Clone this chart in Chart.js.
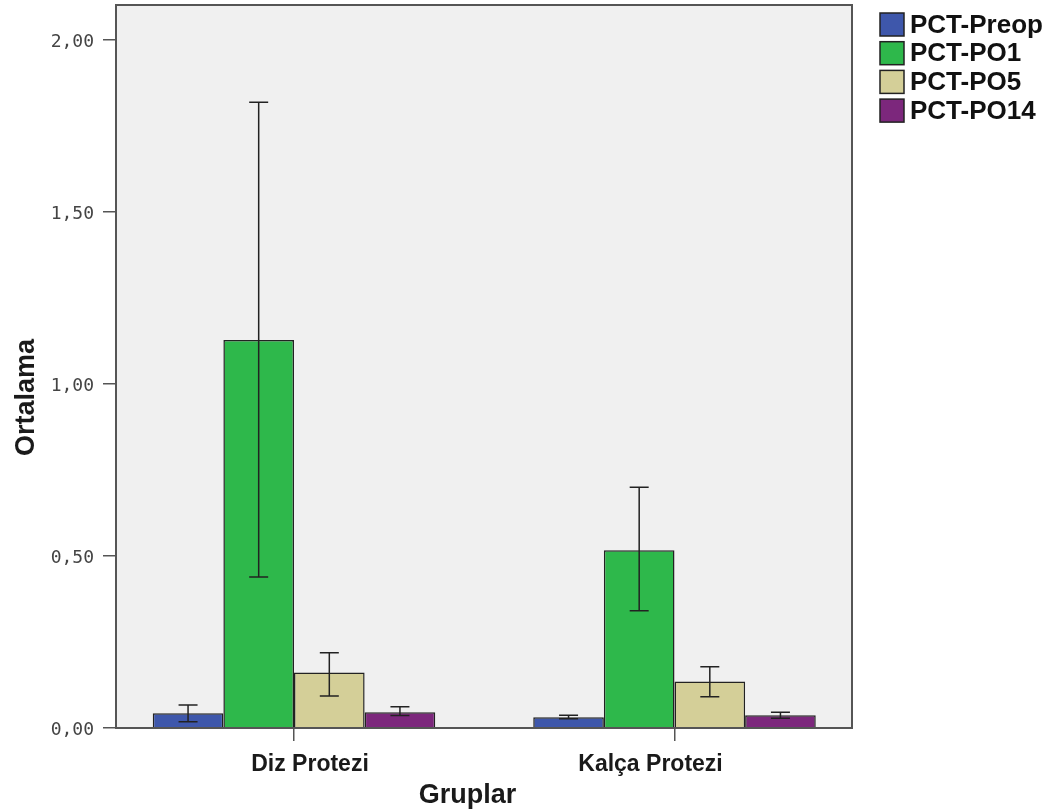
<!DOCTYPE html>
<html>
<head>
<meta charset="utf-8">
<script src="https://cdn.jsdelivr.net/npm/chart.js@4/dist/chart.umd.min.js"></script>
<style>
  html, body { margin: 0; padding: 0; background: #ffffff; }
  #wrap { width: 1054px; height: 809px; position: relative; }
</style>
</head>
<body>
<div id="wrap"><canvas id="chart"></canvas></div>
<script>
// Group labels along the x axis
const categories = ['Diz Protezi', 'Kalça Protezi'];

// Series names and their means per group
const seriesNames = ['PCT-Preop', 'PCT-PO1', 'PCT-PO5', 'PCT-PO14'];
const preopMean = [0.043, 0.031];
const po1Mean   = [1.128, 0.517];
const po5Mean   = [0.161, 0.135];
const po14Mean  = [0.046, 0.037];

// Error bar limits (lower / upper) per group
const preopLow  = [0.018, 0.027];
const preopHigh = [0.067, 0.037];
const po1Low    = [0.439, 0.341];
const po1High   = [1.819, 0.700];
const po5Low    = [0.093, 0.091];
const po5High   = [0.219, 0.178];
const po14Low   = [0.036, 0.028];
const po14High  = [0.062, 0.046];

// Y axis tick values
const yTicks = [0, 0.5, 1.0, 1.5, 2.0];

const colors = ['#3e57ab', '#2eb84b', '#d4cf98', '#7c277c'];
const means = [preopMean, po1Mean, po5Mean, po14Mean];
const lows = [preopLow, po1Low, po5Low, po14Low];
const highs = [preopHigh, po1High, po5High, po14High];

const BOLD = '"Liberation Sans", Arial, sans-serif';

const datasets = seriesNames.map((name, s) => ({
  label: name,
  data: categories.map((c, i) => ({ x: i, y: means[s][i] })),
  errLow: lows[s],
  errHigh: highs[s],
  backgroundColor: colors[s],
  borderColor: '#222222',
  borderWidth: 1.5,
  categoryPercentage: 0.7425,
  barPercentage: 1.0
}));

// Plot background, error bars, frame, titles, group labels and legend
const decor = {
  id: 'decor',
  beforeDatasetsDraw(chart) {
    const { ctx, chartArea: a } = chart;
    ctx.save();
    ctx.fillStyle = '#f0f0f0';
    ctx.fillRect(a.left, a.top, a.right - a.left, a.bottom - a.top);
    ctx.restore();
  },
  afterDatasetsDraw(chart) {
    const { ctx } = chart;
    const y = chart.scales.y;
    ctx.save();
    ctx.strokeStyle = '#222222';
    ctx.lineWidth = 1.5;
    chart.data.datasets.forEach((ds, s) => {
      const meta = chart.getDatasetMeta(s);
      meta.data.forEach((bar, i) => {
        const top = y.getPixelForValue(ds.errHigh[i]);
        const bot = y.getPixelForValue(ds.errLow[i]);
        const cap = 9.5;
        ctx.beginPath();
        ctx.moveTo(bar.x, top); ctx.lineTo(bar.x, bot);
        ctx.moveTo(bar.x - cap, top); ctx.lineTo(bar.x + cap, top);
        ctx.moveTo(bar.x - cap, bot); ctx.lineTo(bar.x + cap, bot);
        ctx.stroke();
      });
    });
    ctx.restore();
  },
  afterDraw(chart) {
    const { ctx, chartArea: a } = chart;
    const x = chart.scales.x;
    ctx.save();
    // frame
    ctx.strokeStyle = '#555555';
    ctx.lineWidth = 2;
    ctx.strokeRect(a.left, a.top, a.right - a.left, a.bottom - a.top);

    // group labels under the ticks
    ctx.fillStyle = '#1a1a1a';
    ctx.font = 'bold 23px ' + BOLD;
    ctx.textAlign = 'center';
    ctx.textBaseline = 'alphabetic';
    const labelShift = [16, -24];
    categories.forEach((c, i) => {
      ctx.fillText(c, x.getPixelForValue(i) + labelShift[i], 771);
    });

    // axis titles
    ctx.font = 'bold 27px ' + BOLD;
    ctx.fillText('Gruplar', 467.5, 803);
    ctx.save();
    ctx.translate(33.5, 397.5);
    ctx.rotate(-Math.PI / 2);
    ctx.fillText('Ortalama', 0, 0);
    ctx.restore();

    // legend
    ctx.font = 'bold 26px ' + BOLD;
    ctx.textAlign = 'left';
    ctx.textBaseline = 'middle';
    chart.data.datasets.forEach((ds, s) => {
      const cy = 24.5 + s * 28.7;
      ctx.fillStyle = ds.backgroundColor;
      ctx.fillRect(880, cy - 11.5, 24, 23);
      ctx.strokeStyle = '#222222';
      ctx.lineWidth = 1.5;
      ctx.strokeRect(880, cy - 11.5, 24, 23);
      ctx.fillStyle = '#111111';
      ctx.fillText(ds.label, 910, cy + 1);
    });
    ctx.restore();
  }
};

new Chart(document.getElementById('chart'), {
  type: 'bar',
  data: { datasets },
  plugins: [decor],
  options: {
    responsive: true,
    maintainAspectRatio: false,
    animation: false,
    layout: { padding: { top: 5, right: 202, left: 0, bottom: 0 } },
    plugins: {
      legend: { display: false },
      tooltip: { enabled: false }
    },
    scales: {
      x: {
        type: 'linear',
        offset: false,
        min: -0.4678,
        max: 1.4665,
        afterBuildTicks: (s) => { s.ticks = categories.map((c, i) => ({ value: i })); },
        afterFit: (s) => { s.height = 81; s.paddingLeft = 0; s.paddingRight = 0; },
        ticks: { display: false },
        grid: { offset: false, drawOnChartArea: false, drawTicks: true, tickLength: 13, color: '#555555', lineWidth: 1.5 },
        border: { display: false }
      },
      y: {
        min: 0,
        max: 2.1017,
        afterBuildTicks: (s) => { s.ticks = yTicks.map(v => ({ value: v })); },
        afterFit: (s) => { s.width = 116; s.paddingTop = 0; s.paddingBottom = 0; },
        ticks: {
          padding: 9,
          labelOffset: 2.5,
          color: '#444444',
          font: { family: '"DejaVu Sans Mono", monospace', size: 18 },
          callback: (v) => Number(v).toFixed(2).replace('.', ',')
        },
        grid: { drawOnChartArea: false, drawTicks: true, tickLength: 13, color: '#555555', lineWidth: 1.5 },
        border: { display: false }
      }
    }
  }
});
</script>
</body>
</html>
